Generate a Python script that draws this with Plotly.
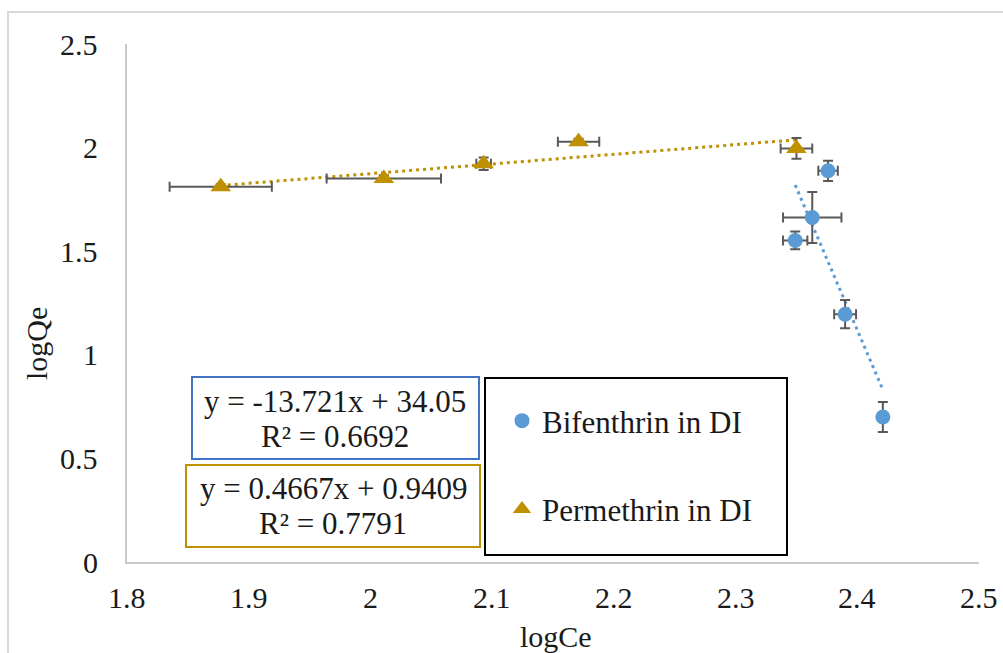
import plotly.graph_objects as go

# Bifenthrin in DI water: log Ce vs log Qe with standard-deviation error bars
bif_logce = [2.376, 2.363, 2.349, 2.390, 2.421]
bif_logqe = [1.888, 1.663, 1.552, 1.196, 0.700]
bif_err_x = [0.008, 0.024, 0.010, 0.009, 0.002]
bif_err_y = [0.049, 0.123, 0.043, 0.068, 0.072]

# Permethrin in DI water
per_logce = [1.877, 2.011, 2.093, 2.171, 2.350]
per_logqe = [1.811, 1.851, 1.922, 2.028, 1.996]
per_err_x = [0.042, 0.047, 0.006, 0.017, 0.013]
per_err_y = [0.012, 0.015, 0.030, 0.015, 0.050]

# Linear fits (slope, intercept, R²)
bif_fit = (-13.721, 34.05, 0.6692)
per_fit = (0.4667, 0.9409, 0.7791)

x_ticks = [1.8, 1.9, 2.0, 2.1, 2.2, 2.3, 2.4, 2.5]
x_tick_text = ["1.8", "1.9", "2", "2.1", "2.2", "2.3", "2.4", "2.5"]
y_ticks = [0, 0.5, 1.0, 1.5, 2.0, 2.5]
y_tick_text = ["0", "0.5", "1", "1.5", "2", "2.5"]

BLUE = "#5B9BD5"
GOLD = "#BF9000"
ERR = "#595959"
SERIF = "Liberation Serif"
TXT = "#1a1a1a"

W, H = 1003, 653
X0, X1, Y0, Y1 = 127, 979, 44, 562   # plot area in pixels


def px(xp):
    return (xp - X0) / (X1 - X0)


def py(yp):
    return (Y1 - yp) / (Y1 - Y0)


def fit_line(xs, fit):
    lo, hi = min(xs), max(xs)
    return [lo, hi], [fit[0] * lo + fit[1], fit[0] * hi + fit[1]]


def fmt_eq(fit):
    sign = "+" if fit[1] >= 0 else "-"
    return f"y = {fit[0]:g}x {sign} {abs(fit[1]):g}"


fig = go.Figure()

bx, by = fit_line(bif_logce, bif_fit)
fig.add_trace(go.Scatter(x=bx, y=by, mode="lines", showlegend=False,
                         line=dict(color=BLUE, width=3, dash="3px,4px"),
                         hoverinfo="skip"))
gx, gy = fit_line(per_logce, per_fit)
fig.add_trace(go.Scatter(x=gx, y=gy, mode="lines", showlegend=False,
                         line=dict(color=GOLD, width=3, dash="3px,4px"),
                         hoverinfo="skip"))

err_style = dict(type="data", symmetric=True, color=ERR, thickness=2, width=5)

fig.add_trace(go.Scatter(
    x=bif_logce, y=bif_logqe, mode="markers", name="Bifenthrin in DI",
    legendgroup="a",
    marker=dict(symbol="circle", size=15, color=BLUE),
    error_x=dict(array=bif_err_x, **err_style),
    error_y=dict(array=bif_err_y, **err_style),
))
fig.add_trace(go.Scatter(
    x=per_logce, y=per_logqe, mode="markers", name="Permethrin in DI",
    legendgroup="b",
    marker=dict(symbol="triangle-up", size=18, color=GOLD),
    error_x=dict(array=per_err_x, **err_style),
    error_y=dict(array=per_err_y, **err_style),
))

shapes = [
    # chart border
    dict(type="rect", xref="paper", yref="paper", x0=px(8), x1=px(1012),
         y0=py(700), y1=py(12), line=dict(color="#d9d9d9", width=2),
         layer="below"),
    # equation boxes
    dict(type="rect", xref="paper", yref="paper", x0=px(192), x1=px(479),
         y0=py(459), y1=py(377), line=dict(color="#4472C4", width=2),
         fillcolor="white"),
    dict(type="rect", xref="paper", yref="paper", x0=px(186), x1=px(480),
         y0=py(547), y1=py(465), line=dict(color=GOLD, width=2),
         fillcolor="white"),
    # legend frame
    dict(type="rect", xref="paper", yref="paper", x0=px(485), x1=px(787),
         y0=py(555), y1=py(378), line=dict(color="black", width=2),
         fillcolor="white"),
]

annotations = []
for text, xc, yc in [
    (fmt_eq(bif_fit), 335, 401),
    (f"R² = {bif_fit[2]}", 335, 436),
    (fmt_eq(per_fit), 333, 488),
    (f"R² = {per_fit[2]}", 333, 523),
]:
    annotations.append(dict(text=text, xref="paper", yref="paper",
                            x=px(xc), y=py(yc), xanchor="center",
                            yanchor="middle", showarrow=False,
                            font=dict(family=SERIF, size=31, color=TXT)))

# axis titles
annotations.append(dict(text="logQe", xref="paper", yref="paper",
                        x=px(36), y=py(344), textangle=-90,
                        xanchor="center", yanchor="middle", showarrow=False,
                        font=dict(family=SERIF, size=30, color=TXT)))
annotations.append(dict(text="logCe", xref="paper", yref="paper",
                        x=px(556), y=py(636), xanchor="center",
                        yanchor="middle", showarrow=False,
                        font=dict(family=SERIF, size=30, color=TXT)))

# serif tick labels, placed on the axis scale
tick_font = dict(family=SERIF, size=30, color=TXT)
for v, t in zip(x_ticks, x_tick_text):
    annotations.append(dict(text=t, xref="x", yref="paper", x=v, y=py(597),
                            xanchor="center", yanchor="middle",
                            showarrow=False, font=tick_font))
for v, t in zip(y_ticks, y_tick_text):
    annotations.append(dict(text=t, xref="paper", yref="y", x=px(100), y=v,
                            xanchor="right", yanchor="middle",
                            showarrow=False, font=tick_font))

fig.update_layout(
    template="none",
    width=W, height=H,
    margin=dict(l=X0, r=W - X1, t=Y0, b=H - Y1, pad=0),
    paper_bgcolor="white", plot_bgcolor="white",
    font=dict(family=SERIF, size=29, color=TXT),
    shapes=shapes,
    annotations=annotations,
    showlegend=True,
    legend=dict(x=px(502), y=py(394), xanchor="left", yanchor="top",
                bgcolor="rgba(0,0,0,0)", borderwidth=0,
                font=dict(family=SERIF, size=31, color=TXT),
                tracegroupgap=45, itemwidth=30),
    xaxis=dict(range=[1.8, 2.5], tickvals=x_ticks, showticklabels=False,
               showgrid=False, zeroline=False, showline=True,
               linecolor="#c9c9c9", linewidth=2, ticks=""),
    yaxis=dict(range=[0, 2.5], tickvals=y_ticks, showticklabels=False,
               showgrid=False, zeroline=False, showline=True,
               linecolor="#c9c9c9", linewidth=2, ticks=""),
)

fig.write_html("out.html")
